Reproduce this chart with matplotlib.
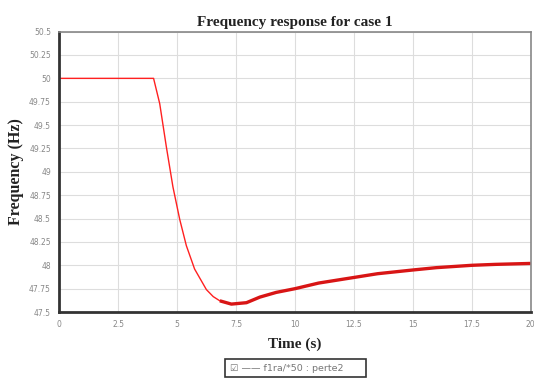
import matplotlib
matplotlib.use("Agg")
import matplotlib.pyplot as plt

# values
time_s = [0, 4.0, 4.26, 4.54, 4.82, 5.11, 5.39, 5.74, 6.24, 6.53, 6.81, 7.30, 7.94,
          8.51, 9.2, 10, 11, 12.5, 13.5, 15, 16, 17.5, 18.5, 20]
freq_hz = [50, 50, 49.73, 49.27, 48.84, 48.49, 48.21, 47.96, 47.74, 47.665, 47.62, 47.585,
           47.60, 47.66, 47.71, 47.75, 47.81, 47.87, 47.91, 47.95, 47.975, 48.0,
           48.01, 48.02]
x_ticks = [0, 2.5, 5, 7.5, 10, 12.5, 15, 17.5, 20]
x_labels = ['0', '2.5', '5', '7.5', '10', '12.5', '15', '17.5', '20']
y_ticks = [47.5, 47.75, 48, 48.25, 48.5, 48.75, 49, 49.25, 49.5, 49.75, 50, 50.25, 50.5]
y_labels = ['47.5', '47.75', '48', '48.25', '48.5', '48.75', '49', '49.25', '49.5',
            '49.75', '50', '50.25', '50.5']
legend_label = 'f1ra/*50 : perte2'

fig = plt.figure(figsize=(5.34, 3.81), dpi=100)
ax = fig.add_axes([0.111, 0.181, 0.883, 0.736])

# thin line for the first part, thicker for the recovery like the original
ax.plot(time_s, freq_hz, color='#ff2020', lw=1.0)
k = time_s.index(7.30)
ax.plot(time_s[k - 1:], freq_hz[k - 1:], color='#d81515', lw=2.4, solid_capstyle='butt')

ax.set_xlim(0, 20)
ax.set_ylim(47.5, 50.5)
ax.set_xticks(x_ticks)
ax.set_xticklabels(x_labels)
ax.set_yticks(y_ticks)
ax.set_yticklabels(y_labels)
ax.tick_params(labelsize=5.5, colors='#888888', length=0, pad=6)
ax.grid(True, color='#dddddd', lw=0.8)

for s in ['left', 'bottom']:
    ax.spines[s].set_color('#333333')
    ax.spines[s].set_linewidth(2)
for s in ['top', 'right']:
    ax.spines[s].set_color('#888888')
    ax.spines[s].set_linewidth(1.2)

ax.set_title('Frequency response for case 1', fontsize=11, fontweight='bold',
             family='Liberation Serif', color='#222222', pad=4)
ax.set_xlabel('Time (s)', fontsize=11, fontweight='bold', family='Liberation Serif',
              color='#222222', labelpad=6)
ax.set_ylabel('Frequency (Hz)', fontsize=11.5, fontweight='bold', family='Liberation Serif',
              color='#222222', labelpad=4)

fig.text(0.554, 0.034, '\u2611 \u2014\u2014 ' + legend_label + '      ', ha='center', va='center',
         fontsize=6.8, color='#777777',
         bbox=dict(boxstyle='square,pad=0.5', fc='white', ec='#333333', lw=1.2))

fig.savefig('out.png', dpi=100)
